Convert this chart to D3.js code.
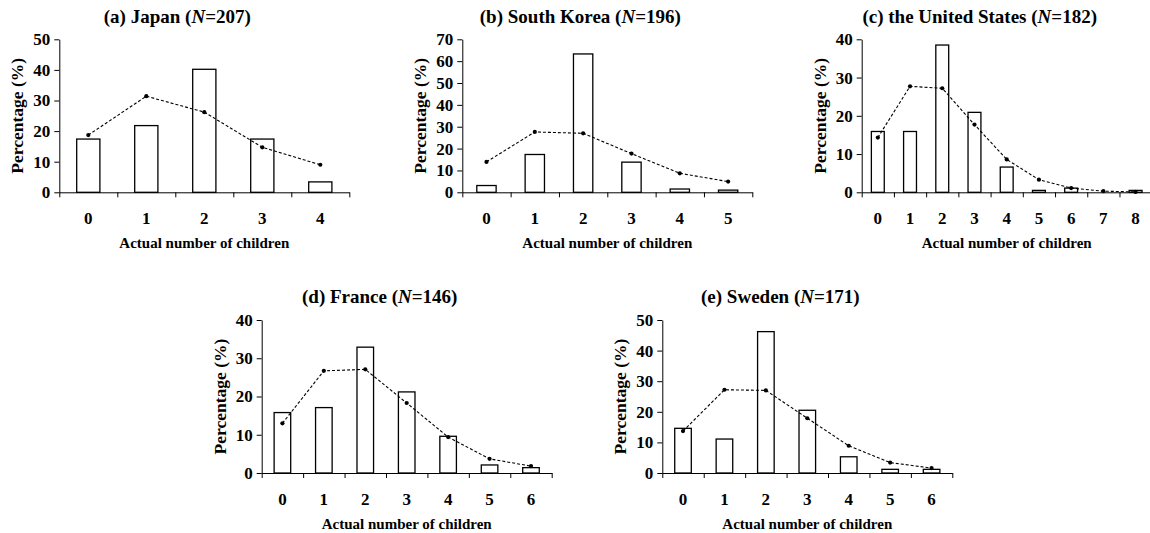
<!DOCTYPE html>
<html>
<head>
<meta charset="utf-8">
<script src="https://cdn.jsdelivr.net/npm/d3@7"></script>
<style>
  body { margin: 0; background: #fff; }
  svg text { font-family: "Liberation Serif", "Times New Roman", serif; font-weight: bold; }
</style>
</head>
<body>
<div id="container"></div>
<script>
// data (percentages)
var panelTitles = ["(a) Japan", "(b) South Korea", "(c) the United States", "(d) France", "(e) Sweden"];
var sampleSizes = [207, 196, 182, 146, 171];
var yMaxes = [50, 70, 40, 40, 50];

var japanKids = [0, 1, 2, 3, 4];
var japanActual = [17.4, 21.8, 40.2, 17.4, 3.4];
var japanExpected = [18.7, 31.4, 26.2, 14.7, 9.0];

var koreaKids = [0, 1, 2, 3, 4, 5];
var koreaActual = [3.1, 17.3, 63.3, 13.8, 1.5, 1.0];
var koreaExpected = [13.9, 27.6, 27.0, 17.7, 8.7, 4.9];

var usKids = [0, 1, 2, 3, 4, 5, 6, 7, 8];
var usActual = [15.9, 15.9, 38.5, 20.9, 6.6, 0.5, 1.1, 0, 0.5];
var usExpected = [14.3, 27.7, 27.2, 17.7, 8.6, 3.3, 1.1, 0.3, 0.1];

var franceKids = [0, 1, 2, 3, 4, 5, 6];
var franceActual = [15.8, 17.1, 32.9, 21.2, 9.6, 2.1, 1.4];
var franceExpected = [13.0, 26.7, 27.1, 18.3, 9.4, 3.7, 1.8];

var swedenKids = [0, 1, 2, 3, 4, 5, 6];
var swedenActual = [14.6, 11.1, 46.2, 20.5, 5.3, 1.2, 1.2];
var swedenExpected = [13.7, 27.2, 27.0, 17.9, 8.9, 3.4, 1.6];

var kidsList = [japanKids, koreaKids, usKids, franceKids, swedenKids];
var actualList = [japanActual, koreaActual, usActual, franceActual, swedenActual];
var expectedList = [japanExpected, koreaExpected, usExpected, franceExpected, swedenExpected];

// plot boxes (left edge of y axis, top of plot)
var boxes = [
  { left: 59.3, top: 39.3 },
  { left: 462.3, top: 39.3 },
  { left: 861.7, top: 39.3 },
  { left: 261.7, top: 320 },
  { left: 662.3, top: 320 }
];
var plotW = 290, plotH = 153;

var svg = d3.select("#container").append("svg")
    .attr("width", 1150)
    .attr("height", 533);

function drawPanel(i) {
  var kids = kidsList[i], actual = actualList[i], expected = expectedList[i];
  var g = svg.append("g")
      .attr("transform", "translate(" + boxes[i].left + "," + boxes[i].top + ")");

  var x = d3.scaleBand()
      .domain(kids)
      .range([0, plotW])
      .paddingInner(0.6)
      .paddingOuter(0.3);

  // boundaries between categories, for the x tick marks
  var xEdge = d3.scaleLinear().domain([0, kids.length]).range([0, plotW]);

  var y = d3.scaleLinear().domain([0, yMaxes[i]]).range([plotH, 0]);

  // bars
  g.selectAll("rect.bar")
      .data(kids.filter(function(k, j) { return actual[j] > 0; }))
      .enter().append("rect")
      .attr("class", "bar")
      .attr("x", function(k) { return x(k); })
      .attr("width", x.bandwidth())
      .attr("y", function(k) { return y(actual[kids.indexOf(k)]); })
      .attr("height", function(k) { return plotH - y(actual[kids.indexOf(k)]); })
      .attr("fill", "#fff")
      .attr("stroke", "#000")
      .attr("stroke-width", 1.3);

  // expected distribution, dashed
  var line = d3.line()
      .x(function(d, j) { return x(kids[j]) + x.bandwidth() / 2; })
      .y(function(d) { return y(d); });

  g.append("path")
      .datum(expected)
      .attr("d", line)
      .attr("fill", "none")
      .attr("stroke", "#000")
      .attr("stroke-width", 1.1)
      .attr("stroke-dasharray", "3,2");

  g.selectAll("circle.dot")
      .data(expected)
      .enter().append("circle")
      .attr("class", "dot")
      .attr("cx", function(d, j) { return x(kids[j]) + x.bandwidth() / 2; })
      .attr("cy", function(d) { return y(d); })
      .attr("r", 2.1)
      .attr("fill", "#000");

  // y axis
  var yAxis = g.append("g")
      .call(d3.axisLeft(y).ticks(yMaxes[i] / 10).tickSize(5).tickSizeOuter(0).tickPadding(4));
  yAxis.selectAll("text").style("font-size", "17px");

  // x axis: boundary ticks, then labels at centres
  g.append("g")
      .attr("transform", "translate(0," + plotH + ")")
      .call(d3.axisBottom(xEdge).ticks(kids.length).tickSize(5).tickSizeOuter(0).tickFormat(""));

  var xAxis = g.append("g")
      .attr("transform", "translate(0," + plotH + ")")
      .call(d3.axisBottom(x).tickSize(0).tickPadding(20));
  xAxis.select(".domain").remove();
  xAxis.selectAll("text").style("font-size", "17px");

  g.selectAll(".domain, .tick line").attr("stroke", "#000");

  // axis titles
  g.append("text")
      .attr("x", plotW / 2)
      .attr("y", plotH + 56)
      .attr("text-anchor", "middle")
      .attr("font-size", 15)
      .text("Actual number of children");

  g.append("text")
      .attr("transform", "translate(-36," + plotH / 2 + ") rotate(-90)")
      .attr("text-anchor", "middle")
      .attr("font-size", 17.5)
      .text("Percentage (%)");

  // panel title
  var title = g.append("text")
      .attr("x", plotW / 2 - 27)
      .attr("y", -16.6)
      .attr("text-anchor", "middle")
      .attr("font-size", 19);
  title.append("tspan").text(panelTitles[i] + " (");
  title.append("tspan").attr("font-style", "italic").text("N");
  title.append("tspan").text("=" + sampleSizes[i] + ")");
}

for (var i = 0; i < panelTitles.length; i++) {
  drawPanel(i);
}
</script>
</body>
</html>
